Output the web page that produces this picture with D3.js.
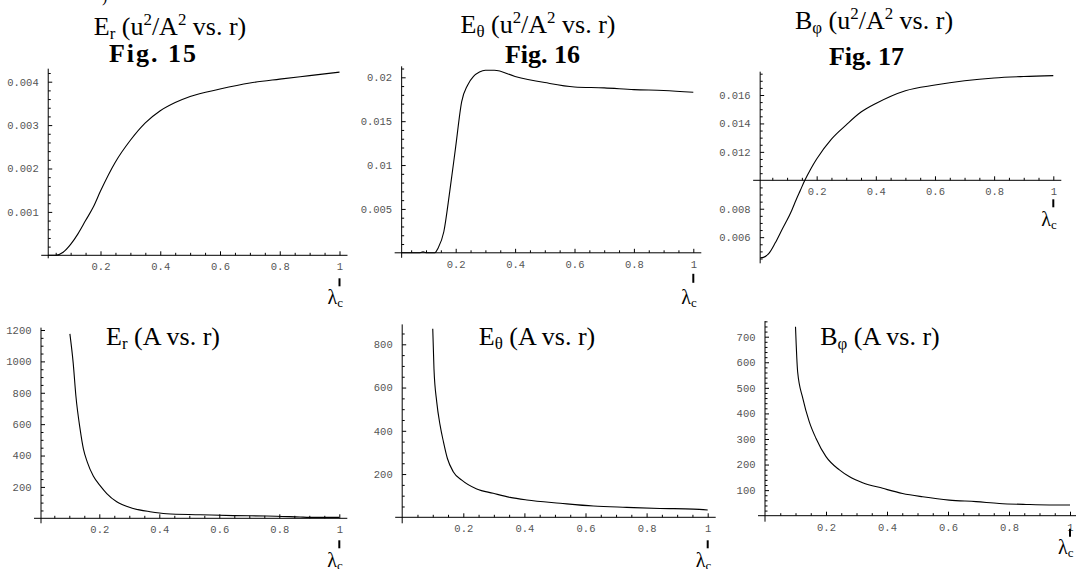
<!DOCTYPE html>
<html><head><meta charset="utf-8">
<script src="https://cdn.jsdelivr.net/npm/d3@7"></script>
<style>body{margin:0;background:#fff} svg{display:block}</style>
</head><body><svg id="c" width="1076" height="569"></svg>
<script>
// ---------- data ----------
const xMajorTicks = [0.2, 0.4, 0.6, 0.8, 1];
const xTickLabels = ["0.2", "0.4", "0.6", "0.8", "1"];

// Fig. 15  E_r (u^2/A^2 vs r)
const fig15X = [0.025,0.05,0.075,0.1,0.125,0.15,0.175,0.2,0.25,0.3,0.35,0.4,0.45,0.5,0.6,0.7,0.8,0.9,1.0];
const fig15Y = [0,0,0.00007,0.00025,0.0005,0.0008,0.0011,0.00148,0.00215,0.00265,0.00305,0.00333,0.00352,0.00366,0.00383,0.00397,0.00406,0.00414,0.00422];
const fig15YTicks = [0.001, 0.002, 0.003, 0.004];
const fig15YLabels = ["0.001", "0.002", "0.003", "0.004"];

// Fig. 16  E_theta (u^2/A^2 vs r)
const fig16X = [0.018,0.08,0.09,0.1,0.13,0.14,0.16,0.18,0.2,0.22,0.24,0.26,0.28,0.3,0.33,0.4,0.5,0.6,0.7,0.8,0.9,1.0];
const fig16Y = [0,0,0.0001,0,0,0.0005,0.0024,0.007,0.0121,0.0172,0.0191,0.0201,0.0206,0.0208,0.0208,0.0201,0.0194,0.0189,0.0188,0.0186,0.0185,0.0183];
const fig16YTicks = [0.005, 0.01, 0.015, 0.02];
const fig16YLabels = ["0.005", "0.01", "0.015", "0.02"];

// Fig. 17  B_phi (u^2/A^2 vs r)
const fig17X = [0.0095,0.02,0.04,0.06,0.087,0.1,0.116,0.13,0.145,0.16,0.18,0.2,0.25,0.3,0.35,0.4,0.5,0.6,0.7,0.8,0.9,1.0];
const fig17Y = [0.00455,0.00458,0.0049,0.0056,0.0067,0.0072,0.0079,0.0086,0.0093,0.0100,0.0108,0.0115,0.0129,0.0139,0.0148,0.0154,0.0163,0.0167,0.0170,0.0172,0.0173,0.01736];
const fig17YTicks = [0.006, 0.008, 0.012, 0.014, 0.016];
const fig17YLabels = ["0.006", "0.008", "0.012", "0.014", "0.016"];

// E_r (A vs r)
const aErX = [0.102,0.113,0.122,0.136,0.147,0.16,0.18,0.202,0.225,0.258,0.313,0.369,0.424,0.536,0.647,0.758,0.869,0.9,1.0];
const aErY = [1175,989,779,568,442,358,269,210,158,105,63,42,29,23,17,15,8,6,6];
const aErYTicks = [200, 400, 600, 800, 1000, 1200];
const aErYLabels = ["200", "400", "600", "800", "1000", "1200"];

// E_theta (A vs r)
const aEthX = [0.1,0.104,0.113,0.124,0.135,0.148,0.167,0.195,0.244,0.298,0.353,0.408,0.517,0.626,0.735,0.844,0.953,1.0];
const aEthY = [872,687,534,426,349,272,211,172,131,111,92,80,65,52,46,41,38,34];
const aEthYTicks = [200, 400, 600, 800];
const aEthYLabels = ["200", "400", "600", "800"];

// B_phi (A vs r)
const aBphX = [0.1,0.107,0.124,0.145,0.167,0.2,0.244,0.276,0.32,0.386,0.451,0.517,0.604,0.692,0.768,0.856,0.932,1.0];
const aBphY = [739,563,459,368,303,231,179,153,129,107,87,74,61,55,48,44,42,42];
const aBphYTicks = [100, 200, 300, 400, 500, 600, 700];
const aBphYLabels = ["100", "200", "300", "400", "500", "600", "700"];

// titles: [text, kind] kind 0 normal, -1 subscript, 1 superscript
const topTitles = [
  [["E",0],["r",-1],[" (u",0],["2",1],["/A",0],["2",1],[" vs. r)",0]],
  [["E",0],["θ",-1],[" (u",0],["2",1],["/A",0],["2",1],[" vs. r)",0]],
  [["B",0],["φ",-1],[" (u",0],["2",1],["/A",0],["2",1],[" vs. r)",0]]
];
const figLabels = ["Fig. 15", "Fig. 16", "Fig. 17"];
const bottomTitles = [
  [["E",0],["r",-1],[" (A vs. r)",0]],
  [["E",0],["θ",-1],[" (A vs. r)",0]],
  [["B",0],["φ",-1],[" (A vs. r)",0]]
];

// ---------- layout ----------
const panels = [
  {xs:fig15X, ys:fig15Y, yt:fig15YTicks, yl:fig15YLabels, minor:0.0002,
   xr:[40.75,339.5], yd:[0,0.004], yr:[255.3,81.7], yAxisAt:0.025, xAxisAt:0, yTop:0.0043, yBot:null, ext:3, lam:[23,31,49]},
  {xs:fig16X, ys:fig16Y, yt:fig16YTicks, yl:fig16YLabels, minor:0.001,
   xr:[396.3,693.3], yd:[0,0.02], yr:[252.8,77.3], yAxisAt:0.018, xAxisAt:0, yTop:0.02125, yBot:null, ext:5, lam:[21,30,51]},
  {xs:fig17X, ys:fig17Y, yt:fig17YTicks, yl:fig17YLabels, minor:0.0005,
   xr:[757.5,1053.3], yd:[0.01,0.016], yr:[180.3,95], yAxisAt:0.009, xAxisAt:0.01, yTop:0.01764, yBot:0.00416, ext:0, lam:[19,27,46]},
  {xs:aErX, ys:aErY, yt:aErYTicks, yl:aErYLabels, minor:50,
   xr:[39.3,339.3], yd:[0,1200], yr:[518.3,330], yAxisAt:0.0057, xAxisAt:0, yTop:1215, yBot:null, ext:5, lam:[22,30,49]},
  {xs:aEthX, ys:aEthY, yt:aEthYTicks, yl:aEthYLabels, minor:50,
   xr:[402.2,707.7], yd:[0,800], yr:[517.3,344.3], yAxisAt:0, xAxisAt:0, yTop:892, yBot:null, ext:6, lam:[23,31,50]},
  {xs:aBphX, ys:aBphY, yt:aBphYTicks, yl:aBphYLabels, minor:20,
   xr:[765,1070], yd:[0,700], yr:[515.7,336.7], yAxisAt:0, xAxisAt:0, yTop:761, yBot:null, ext:6, lam:[13,21,38]}
];

const svg = d3.select("#c");
const SERIF = "'Liberation Serif', 'Times New Roman', serif";
const MONO = "'Liberation Mono', 'Courier New', monospace";

function multiples(lo, hi, step) {
  const a = Math.ceil(lo / step - 1e-9), b = Math.floor(hi / step + 1e-9);
  return d3.range(a, b + 1).map(i => +(i * step).toFixed(10));
}

function drawPanel(p) {
  const x = d3.scaleLinear().domain([0, 1]).range(p.xr);
  const y = d3.scaleLinear().domain(p.yd).range(p.yr);
  const g = svg.append("g");
  const ax0 = x(p.yAxisAt), ay0 = y(p.xAxisAt);

  // axis lines
  g.append("line").attr("x1", ax0 - 7).attr("x2", x(1) + 8)
    .attr("y1", ay0).attr("y2", ay0).attr("stroke", "#000").attr("stroke-width", 1);
  const yb = p.yBot != null ? y(p.yBot) : ay0 + p.ext;
  g.append("line").attr("x1", ax0).attr("x2", ax0)
    .attr("y1", yb).attr("y2", y(p.yTop)).attr("stroke", "#000").attr("stroke-width", 1);

  // x axis major ticks + labels
  const gx = g.append("g").attr("transform", `translate(0,${ay0})`)
    .call(d3.axisBottom(x).tickValues(xMajorTicks).tickSizeInner(-4).tickSizeOuter(0)
      .tickFormat((d, i) => xTickLabels[i]));
  // x minor ticks
  const xMinor = multiples(p.yAxisAt + 0.01, 1, 0.05).filter(v => !xMajorTicks.some(m => Math.abs(m - v) < 1e-9));
  const gxm = g.append("g").attr("transform", `translate(0,${ay0})`)
    .call(d3.axisBottom(x).tickValues(xMinor).tickSizeInner(-2.5).tickSizeOuter(0).tickFormat(""));

  // y axis major
  const gy = g.append("g").attr("transform", `translate(${ax0},0)`)
    .call(d3.axisLeft(y).tickValues(p.yt).tickSizeInner(-4).tickSizeOuter(0).tickPadding(9.5)
      .tickFormat((d, i) => p.yl[i]));
  const lo = p.yBot != null ? p.yBot : p.xAxisAt;
  const yMinor = multiples(lo, p.yTop, p.minor)
    .filter(v => Math.abs(v - p.xAxisAt) > 1e-12 && !p.yt.some(m => Math.abs(m - v) < 1e-12));
  const gym = g.append("g").attr("transform", `translate(${ax0},0)`)
    .call(d3.axisLeft(y).tickValues(yMinor).tickSizeInner(-2.5).tickSizeOuter(0).tickFormat(""));

  [gx, gxm, gy, gym].forEach(a => {
    a.select(".domain").remove();
    a.selectAll("line").attr("stroke", "#000");
    a.attr("font-family", MONO).attr("font-size", 10.5);
    a.selectAll("text").attr("fill", "#555");
  });
  gx.selectAll("text").attr("y", 11.5).attr("dy", "0.35em");

  // curve
  g.append("path").datum(d3.zip(p.xs, p.ys))
    .attr("d", d3.line().x(d => x(d[0])).y(d => y(d[1])).curve(d3.curveMonotoneX))
    .attr("fill", "none").attr("stroke", "#000").attr("stroke-width", 1.1);

  // lambda_c marker
  const x1 = x(1);
  g.append("line").attr("x1", x1).attr("x2", x1).attr("y1", ay0 + p.lam[0]).attr("y2", ay0 + p.lam[1])
    .attr("stroke", "#000").attr("stroke-width", 2);
  const t = g.append("text").attr("x", x1 - 12).attr("y", ay0 + p.lam[2])
    .attr("font-family", SERIF).attr("font-size", 20).attr("fill", "#000");
  t.append("tspan").text("λ");
  t.append("tspan").attr("font-size", 13).attr("dy", 3).text("c");
}

function richText(parts, cx, baseline, size, weight, spacing) {
  const t = svg.append("text").attr("x", cx).attr("y", baseline)
    .attr("text-anchor", "middle").attr("font-family", SERIF)
    .attr("font-size", size).attr("font-weight", weight || "normal").attr("fill", "#000");
  if (spacing) t.attr("letter-spacing", spacing);
  let cur = 0;
  parts.forEach(([s, k]) => {
    const target = k === -1 ? 4 : (k === 1 ? -10 : 0);
    const ts = t.append("tspan").attr("dy", target - cur).text(s);
    if (k !== 0) ts.attr("font-size", size * 0.65);
    cur = target;
  });
  return t;
}

panels.forEach(drawPanel);

// titles
const topPos = [[170, 35], [538, 33], [874, 29]];
const figPos = [[153.5, 62], [542.5, 63], [866.5, 65]];
const botPos = [[163, 345], [537, 345], [880, 345]];
topTitles.forEach((t, i) => richText(t, topPos[i][0], topPos[i][1], 26));
figLabels.forEach((t, i) => richText([[t, 0]], figPos[i][0], figPos[i][1], 26, "bold", i === 0 ? 2 : 0));
bottomTitles.forEach((t, i) => richText(t, botPos[i][0], botPos[i][1], 26));

// stray glyph remnant at top-left (tail of a clipped parenthesis)
svg.append("text").attr("x", 102).attr("y", 2).attr("font-family", SERIF).attr("font-size", 16).text(")");
</script>
</body></html>
